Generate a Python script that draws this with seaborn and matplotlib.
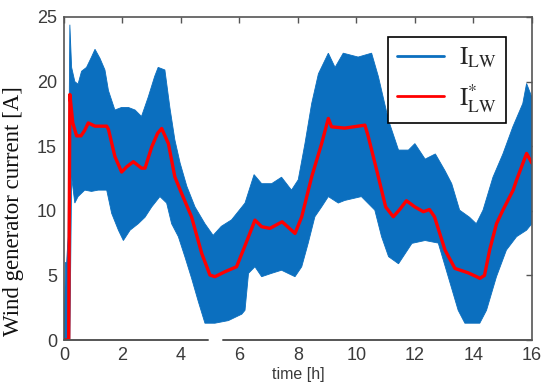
import numpy as np
import matplotlib
matplotlib.use("Agg")
import matplotlib.pyplot as plt
from matplotlib.lines import Line2D
import seaborn as sns

# reference current I*_LW (red)
t_ref = [0, 0.16, 0.2, 0.3, 0.43, 0.58, 0.7, 0.83, 1.06, 1.46, 1.52, 1.74, 1.97, 2.14, 2.37, 2.65, 2.77,
         3.0, 3.2, 3.34, 3.57, 3.79, 4.02, 4.36, 4.71, 4.99, 5.16, 5.5, 5.9, 6.19, 6.53, 6.76, 7.04, 7.46,
         7.9, 8.13, 8.47, 8.81, 9.04, 9.15, 9.6, 10.29, 10.4, 10.75, 11.0, 11.26, 11.48, 11.71, 12.0, 12.29,
         12.5, 12.67, 13.03, 13.37, 13.82, 14.11, 14.22, 14.38, 14.56, 14.79, 15.02, 15.36, 15.48, 15.82, 16.0]
i_ref = [0, 0, 19.0, 16.8, 15.8, 15.8, 16.2, 16.8, 16.55, 16.55, 16.3, 14.2, 13.0, 13.4, 13.8, 13.3, 13.3,
         14.95, 16.0, 16.37, 15.2, 12.63, 11.35, 9.54, 6.7, 5.03, 4.9, 5.28, 5.67, 7.3, 9.28, 8.77, 8.64, 9.15,
         8.25, 9.54, 12.63, 15.2, 17.15, 16.5, 16.4, 16.63, 15.8, 12.63, 10.3, 9.54, 10.1, 10.78, 10.3, 9.93,
         10.1, 9.54, 6.96, 5.54, 5.2, 4.9, 4.77, 5.0, 7.0, 9.0, 10.1, 11.6, 12.4, 14.44, 13.7]

# measured current I_LW (blue), upper and lower envelope of the ripple
t_hi = [0, 0.05, 0.09, 0.14, 0.2, 0.26, 0.37, 0.48, 0.6, 0.77, 0.94, 1.06, 1.23, 1.4, 1.52, 1.74, 1.97,
        2.2, 2.43, 2.65, 2.88, 3.1, 3.22, 3.45, 3.62, 3.79, 3.97, 4.2, 4.48, 4.82, 5.1, 5.38, 5.73, 6.19,
        6.5, 6.76, 7.1, 7.44, 7.78, 8.01, 8.24, 8.47, 8.7, 9.04, 9.27, 9.55, 10.06, 10.52, 10.75, 11.1,
        11.44, 11.78, 12.0, 12.35, 12.7, 13.03, 13.26, 13.53, 13.87, 14.1, 14.33, 14.67, 15.01, 15.35,
        15.69, 15.82, 16.0]
i_hi = [0, 6.0, 6.0, 8.0, 24.4, 21.1, 20.0, 19.8, 20.8, 21.1, 21.9, 22.5, 21.8, 20.9, 19.3, 17.8, 18.0,
        18.0, 17.8, 17.3, 18.8, 20.4, 21.1, 20.9, 18.0, 15.5, 13.7, 11.9, 10.3, 9.0, 8.1, 8.8, 9.3, 10.6,
        12.8, 12.1, 12.1, 12.6, 11.6, 12.4, 15.2, 18.3, 20.6, 22.2, 21.1, 22.2, 21.9, 22.2, 20.4, 17.0,
        14.7, 14.7, 15.2, 14.0, 14.4, 13.1, 12.1, 10.05, 9.5, 9.0, 10.05, 12.6, 14.4, 16.5,
        18.3, 19.85, 18.8]
t_lo = [0, 0.2, 0.26, 0.37, 0.48, 0.71, 0.94, 1.17, 1.46, 1.63, 1.86, 2.03, 2.26, 2.54, 2.77, 3.0, 3.28,
        3.51, 3.68, 3.91, 4.14, 4.36, 4.59, 4.82, 5.16, 5.62, 6.08, 6.19, 6.31, 6.53, 6.76, 7.1, 7.44, 7.9,
        8.13, 8.35, 8.58, 8.81, 9.04, 9.38, 9.6, 10.17, 10.63, 10.86, 11.1, 11.44, 11.9, 12.35, 12.8, 13.14,
        13.48, 13.71, 14.22, 14.45, 14.79, 15.13, 15.48, 15.82, 16.0]
i_lo = [0, 0, 12.6, 10.6, 11.1, 11.6, 11.5, 11.6, 11.6, 9.8, 8.5, 7.7, 8.5, 9.0, 9.5, 10.3, 11.1,
        10.6, 9.0, 8.0, 6.4, 4.8, 3.0, 1.3, 1.3, 1.5, 2.0, 2.3, 5.16, 5.67, 4.9, 5.16, 5.4, 4.9,
        5.67, 7.48, 9.54, 10.3, 11.1, 10.6, 10.8, 11.1, 10.05, 8.0, 6.45, 5.9, 7.48, 7.7, 7.5, 4.9,
        2.3, 1.3, 1.3, 2.3, 4.9, 6.96, 8.0, 8.5, 9.0]

x_ticks = [0, 2, 4, 6, 8, 10, 12, 14, 16]
y_ticks = [0, 5, 10, 15, 20, 25]

sns.set_style("white")
plt.rcParams["font.family"] = ["Liberation Sans", "DejaVu Sans"]
plt.rcParams["mathtext.fontset"] = "stix"

blue = "#0b6fbf"
red = "#ff0000"
grey = "#555555"

fig = plt.figure(figsize=(5.5, 3.88), dpi=100)
ax = fig.add_axes([0.1164, 0.1237, 0.8506, 0.8325])

# blue ripple band
ax.fill(np.r_[t_hi, t_lo[::-1]], np.r_[i_hi, i_lo[::-1]], color=blue, lw=0.6, ec=blue)

sns.lineplot(x=t_ref, y=i_ref, ax=ax, color=red, lw=2.4, sort=False, estimator=None,
             solid_joinstyle="round")

ax.set_xlim(0, 16)
ax.set_ylim(0, 25)
ax.set_xticks(x_ticks)
ax.set_yticks(y_ticks)
ax.tick_params(direction="in", length=4, width=1, colors=grey, labelcolor="#3a3a3a",
               labelsize=13, top=True, right=True, pad=5)
for s in ax.spines.values():
    s.set_color(grey)
    s.set_linewidth(1.2)

# bottom axis has a small break in the original
ax.spines["bottom"].set_visible(False)
xt = ax.get_xaxis_transform()
ax.plot([0, 4.92], [0, 0], transform=xt, color=grey, lw=1.4, clip_on=False, zorder=5)
ax.plot([5.44, 16], [0, 0], transform=xt, color=grey, lw=1.4, clip_on=False, zorder=5)

ax.set_xlabel("time [h]", fontsize=11.5, color="#3a3a3a", labelpad=2)
ax.set_ylabel("Wind generator current [A]", fontsize=16.5, family=["Liberation Serif", "DejaVu Serif"],
              color="#111111")
ax.yaxis.set_label_coords(-0.085, 0.40)

handles = [Line2D([], [], color=blue, lw=2), Line2D([], [], color=red, lw=2)]
leg = ax.legend(handles, [r"$\mathrm{I_{LW}}$", r"$\mathrm{I_{LW}^{*}}$"], loc="upper right",
                bbox_to_anchor=(0.944, 0.938), borderaxespad=0, fontsize=18, frameon=True,
                fancybox=False, edgecolor="black", handlelength=1.9, labelspacing=0.45,
                borderpad=0.35, handletextpad=0.6)
leg.get_frame().set_linewidth(1.2)
leg.get_frame().set_alpha(1)

fig.savefig("out.png", dpi=100)
